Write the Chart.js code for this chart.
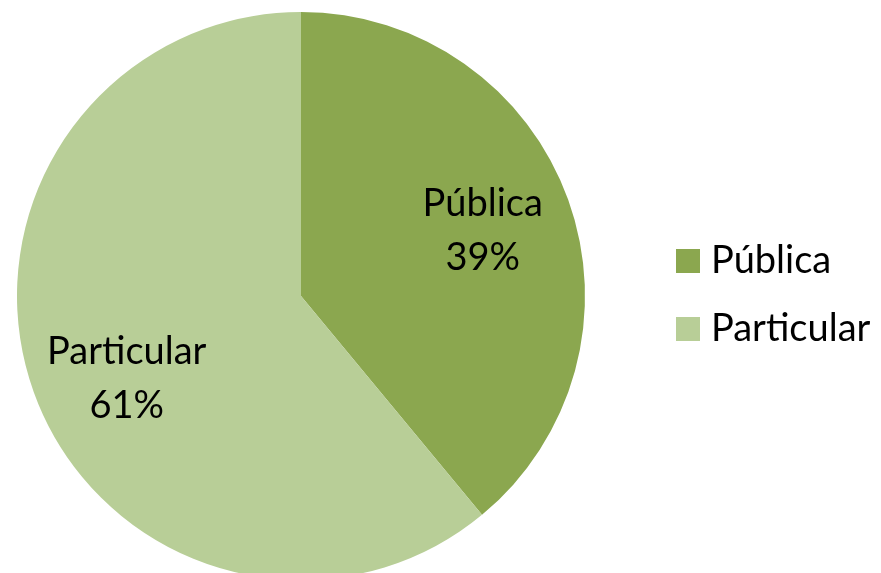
<!DOCTYPE html>
<html>
<head>
<meta charset="utf-8">
<script src="https://cdn.jsdelivr.net/npm/chart.js@4"></script>
<style>
  html, body { margin: 0; padding: 0; background: #fff; overflow: hidden; }
  #wrap { width: 881px; height: 600px; }
</style>
</head>
<body>
<div id="wrap"><canvas id="chart" width="881" height="600"></canvas></div>
<script>
const labels = ["Pública", "Particular"];
const values = [39, 61];
const colors = ["#8BA74F", "#B8CE97"];

const FONT = "Lato, 'Open Sans', sans-serif";

// Draws "name / pct%" inside each slice and the legend on the right.
const sliceLabels = {
  id: "sliceLabels",
  afterDatasetsDraw(chart, args, opts) {
    const ctx = chart.ctx;
    const meta = chart.getDatasetMeta(0);
    const total = values.reduce((s, v) => s + v, 0);
    ctx.save();
    ctx.font = `${opts.size}px ${FONT}`;
    ctx.fillStyle = "#000";
    ctx.textAlign = "center";
    ctx.textBaseline = "middle";
    meta.data.forEach((arc, i) => {
      const p = arc.getProps(["x", "y", "startAngle", "endAngle", "outerRadius"], true);
      const mid = (p.startAngle + p.endAngle) / 2 + opts.angleShift[i];
      const r = p.outerRadius * opts.radiusFrac;
      const cx = p.x + Math.cos(mid) * r;
      const cy = p.y + Math.sin(mid) * r;
      const pct = Math.round((values[i] / total) * 100) + "%";
      ctx.fillText(labels[i], cx, cy - opts.lineGap / 2);
      ctx.fillText(pct, cx, cy + opts.lineGap / 2);
    });

    // legend
    const lg = opts.legend;
    ctx.textAlign = "left";
    labels.forEach((name, i) => {
      const y = lg.y + i * lg.gap;
      ctx.fillStyle = colors[i];
      ctx.fillRect(lg.x, y - lg.box / 2, lg.box, lg.box);
      ctx.fillStyle = "#000";
      ctx.fillText(name, lg.x + lg.box + 11, y);
    });
    ctx.restore();
  },
};

new Chart(document.getElementById("chart"), {
  type: "pie",
  data: {
    labels: labels,
    datasets: [{
      data: values,
      backgroundColor: colors,
      borderWidth: 0,
    }],
  },
  options: {
    responsive: false,
    animation: false,
    layout: { padding: { left: 17, right: 296, top: 12, bottom: 20 } },
    plugins: {
      legend: { display: false },
      tooltip: { enabled: false },
      sliceLabels: {
        size: 38,
        lineGap: 54,
        radiusFrac: 0.68,
        angleShift: [0, -0.1],
        legend: { x: 676, y: 261, gap: 68, box: 24 },
      },
    },
  },
  plugins: [sliceLabels],
});
</script>
</body>
</html>
